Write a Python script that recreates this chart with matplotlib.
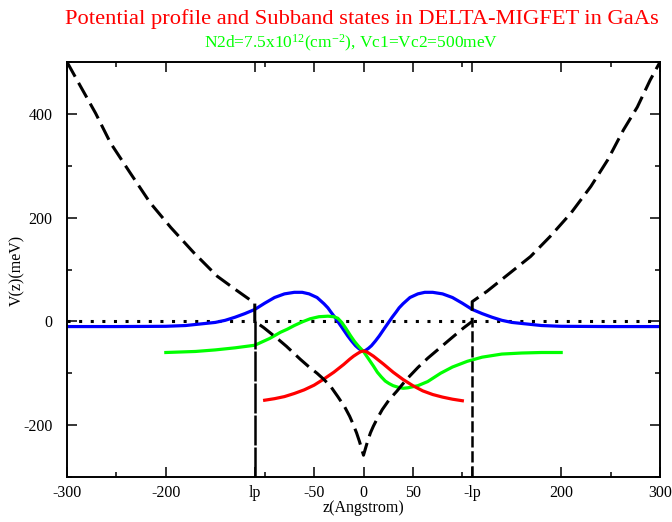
import matplotlib
matplotlib.use('Agg')
import matplotlib.pyplot as plt

plt.rcParams['font.family'] = ['Liberation Serif', 'DejaVu Serif']
plt.rcParams['mathtext.fontset'] = 'custom'
plt.rcParams['mathtext.rm'] = 'Liberation Serif'
plt.rcParams['mathtext.it'] = 'Liberation Serif'
plt.rcParams['mathtext.default'] = 'rm'

# potential profile (black dashed)
z_pot = [-300, -286, -271, -256, -236, -216, -195, -172, -148, -130, -110,
         -110, -101, -86, -78, -64, -55, -47, -40, -33, -26, -19, -14, -11, -7, -4, 0,
         4, 7, 10, 14, 19, 26, 34, 43, 55, 65, 78, 86, 101, 110,
         110, 125, 146, 169, 189, 210, 230, 247, 263, 277, 290, 300]
V_pot = [500, 452, 401, 344, 286, 229, 181, 133, 87, 62, 35,
         0, -12, -35, -48, -73, -88, -100, -112, -126, -145, -165, -183, -196, -215, -232, -258,
         -232, -215, -202, -187, -170, -151, -134, -113, -89, -71, -50, -37, -13, 0,
         38, 58, 90, 125, 164, 209, 260, 311, 369, 413, 465, 500]

# subband states
z_blue = [-300, -250, -200, -180, -165, -150, -140, -130, -120, -110, -100, -90,
          -80, -70, -62, -55, -47, -40, -36, -33, -29, -25, -21, -16, -12, -8, -5, -2, 0,
          2, 5, 8, 12, 16, 21, 25, 29, 33, 36, 40, 47, 55, 62, 70, 80, 90, 100, 110, 120, 130,
          140, 150, 165, 180, 200, 250, 300]
V_blue = [-10, -10, -9.5, -8, -5, -2, 2, 8, 15, 23, 35, 46,
          53, 56, 56, 53, 46, 34, 26, 18, 8, -3, -14, -28, -38, -47, -52, -56, -57,
          -56, -52, -47, -38, -28, -14, -3, 8, 18, 26, 34, 46, 53, 56, 56, 53, 46, 35, 23, 15, 8,
          2, -2, -5, -8, -9.5, -10, -10]

z_green = [-200, -170, -150, -130, -110, -95, -84, -77, -70, -62, -54, -45, -36,
           -30, -26, -22, -18, -13, -9, -5, 0, 5, 10, 14, 18, 22, 26, 30, 35, 40, 45, 55, 65,
           78, 90, 105, 120, 140, 160, 180, 200]
V_green = [-60, -58, -55, -51, -46, -33, -21, -15, -8, -1, 5, 9, 10,
           9, 6, -2, -13, -28, -39, -48, -58, -72, -86, -98, -107, -115, -120, -124, -127, -129, -128, -124, -116,
           -100, -88, -77, -69, -63, -61, -60, -60]

z_red = [-100, -90, -80, -70, -60, -50, -40, -30, -20, -14, -10, -6, -3, 0, 3, 6,
         10, 14, 20, 30, 40, 50, 60, 70, 80, 90, 100]
V_red = [-152, -149, -145, -139, -132, -123, -111, -98, -83, -73, -67, -62, -58.5, -57, -58.5, -62,
         -67, -73, -82, -98, -112, -124, -134, -141, -146, -150, -153]

lp = 110
xtick_pos = [-300, -200, -lp, -50, 0, 50, lp, 200, 300]
xtick_lab = ['-300', '-200', 'lp', '-50', '0', '50', '-lp', '200', '300']
ytick_pos = [-200, 0, 200, 400]
ytick_lab = ['-200', '0', '200', '400']

fig = plt.figure(figsize=(6.72, 5.22), dpi=100)
ax = fig.add_axes([67/672, 1-477/522, 593/672, 415/522])

ax.plot([-300, 300], [0, 0], color='black', lw=2.2, linestyle=(0, (1, 2.8)))
ax.plot(z_blue, V_blue, color='#0000ff', lw=2.3)
ax.plot(z_green, V_green, color='#00ff00', lw=2.3)
ax.plot(z_red, V_red, color='#ff0000', lw=2.3)
ax.plot(z_pot, V_pot, color='black', lw=2.2, linestyle=(0, (5.5, 2.3)))
ax.plot([-lp, -lp], [-300, 0], color='black', lw=1.8, linestyle=(0, (12, 0.8)))
ax.plot([lp, lp], [-300, 0], color='black', lw=1.8, linestyle=(0, (4.5, 1.5)))

ax.set_xlim(-300, 300)
ax.set_ylim(-300, 500)
ax.set_xticks(xtick_pos)
ax.set_xticklabels(xtick_lab)
ax.set_xticks([-250, -100, 100, 250], minor=True)
ax.set_yticks(ytick_pos)
ax.set_yticklabels(ytick_lab)
ax.set_yticks([-300, -100, 100, 300, 500], minor=True)
ax.tick_params(which='both', direction='in', top=True, right=True,
               width=1.1, labelsize=11.5)
ax.tick_params(axis='x', pad=6)
ax.tick_params(axis='y', pad=10.5)
ax.tick_params(which='major', length=7.2)
ax.tick_params(which='minor', length=3.6)
for s in ax.spines.values():
    s.set_linewidth(1.4)

fig.text(17/672, 1-270/522, 'V(z)(meV)', rotation=90, ha='center', va='center', fontsize=11.5)
fig.text(363/672, 1-508/522, 'z(Angstrom)', ha='center', va='center', fontsize=11.5)
fig.text(362/672, 1-19/522, 'Potential profile and Subband states in DELTA-MIGFET in GaAs',
         ha='center', va='center', color='red', fontsize=16.2)
fig.text(351/672, 1-43/522, r'N2d=7.5x10$^{12}$(cm$^{-2}$), Vc1=Vc2=500meV',
         ha='center', va='center', color='#00ff00', fontsize=12.5)

fig.savefig('out.png', dpi=100)
